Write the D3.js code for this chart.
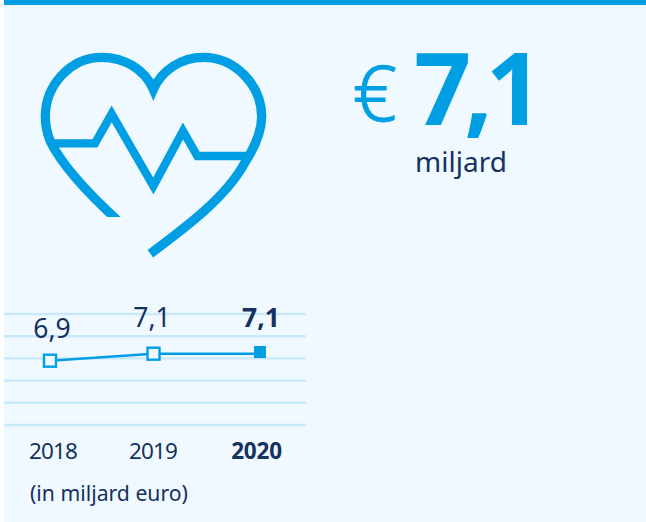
<!DOCTYPE html>
<html><head><meta charset="utf-8">
<script src="https://cdn.jsdelivr.net/npm/d3@7"></script>
<style>html,body{margin:0;padding:0;background:#fff}svg{display:block}text{font-family:"Noto Sans","Open Sans",sans-serif}</style>
</head><body><div id="c"></div>
<script>
const years = ["2018","2019","2020"];
const values = [6.9,7.1,7.1];
const valueLabels = ["6,9","7,1","7,1"];
const gridLevels = [0,1,2,3,4,5];
const headline = "7,1";
const unitLabel = "miljard";
const noteLabel = "(in miljard euro)";
const blue="#009fe3", navy="#15315f", grid="#c7e9fb", bg="#f0f9ff";

const svg=d3.select("#c").append("svg").attr("width",646).attr("height",522);
svg.append("rect").attr("x",4).attr("y",0).attr("width",642).attr("height",522).attr("fill",bg);
svg.append("rect").attr("x",4).attr("y",0).attr("width",642).attr("height",5).attr("fill",blue);

// heart icon
const defs=svg.append("defs");
defs.append("clipPath").attr("id","cut").append("path").attr("d","M0 0H900V810H0Z M0 651V810H400V651Z").attr("clip-rule","evenodd");
const icon=svg.append("g").attr("transform","scale(0.33333)").attr("fill","none").attr("stroke",blue);
icon.append("path").attr("clip-path","url(#cut)").attr("stroke-width",28).attr("stroke-miterlimit",10)
 .attr("d","M356 664C275 590 190 505 150 422C140 395 136 372 136 350C136 255 212 172 305 172C375 172 435 210 460 268C485 210 545 172 610 172C705 172 785 255 785 350C785 395 765 440 735 487C680 590 560 680 451 761");
icon.append("path").attr("stroke-width",25).attr("stroke-miterlimit",10)
 .attr("d","M160 430H285L335 342L460 558L549 393L592 468H745");

// line chart
const x=d3.scaleOrdinal().domain(years).range([50,153.5,260]);
const y=d3.scaleLinear().domain([6.9,7.1]).range([360.7,353.7]);
const yGrid=d3.scaleLinear().domain([0,5]).range([314,425]);
svg.append("g").selectAll("line").data(gridLevels).join("line")
 .attr("x1",4).attr("x2",306).attr("y1",d=>yGrid(d)).attr("y2",d=>yGrid(d))
 .attr("stroke",grid).attr("stroke-width",2.4);
const pts=years.map((k,i)=>({k,v:values[i],l:valueLabels[i],i}));
svg.append("path").datum(pts).attr("fill","none").attr("stroke",blue).attr("stroke-width",2.4)
 .attr("d",d3.line().x(d=>x(d.k)).y(d=>y(d.v)));
svg.append("g").selectAll("rect").data(pts).join("rect")
 .attr("x",d=>x(d.k)-6).attr("y",d=>y(d.v)-6-(d.i==2?1.7:0)).attr("width",12).attr("height",12)
 .attr("fill",d=>d.i==2?blue:bg).attr("stroke",blue).attr("stroke-width",d=>d.i==2?0:2.4);
const lblX=[52,152,261], lblY=[338,327,327];
svg.append("g").selectAll("text").data(pts).join("text")
 .attr("x",d=>lblX[d.i]).attr("y",d=>lblY[d.i]).attr("text-anchor","middle")
 .attr("font-size",26.5).attr("font-weight",d=>d.i==2?700:400).attr("fill",navy).text(d=>d.l);
const tickX=[53,153,256.5];
svg.append("g").selectAll("text").data(pts).join("text")
 .attr("x",d=>tickX[d.i]).attr("y",459).attr("text-anchor","middle").attr("letter-spacing",d=>d.i==2?-0.2:-0.9)
 .attr("font-size",22.5).attr("font-weight",d=>d.i==2?700:400).attr("fill",navy).text(d=>d.k);
svg.append("text").attr("x",30).attr("y",501).attr("font-size",21.2).attr("fill",navy).text(noteLabel);

// headline
svg.append("text").attr("x",352.5).attr("y",121).attr("font-size",78).attr("font-weight",300).attr("fill",blue).attr("stroke",blue).attr("stroke-width",0.8).text("€");
svg.append("text").attr("x",414).attr("y",125).attr("font-size",100).attr("font-weight",700).attr("fill",blue).attr("letter-spacing",-7).text(headline);
svg.append("text").attr("x",461).attr("y",172).attr("text-anchor","middle").attr("font-size",28).attr("fill",navy).text(unitLabel);
</script></body></html>
